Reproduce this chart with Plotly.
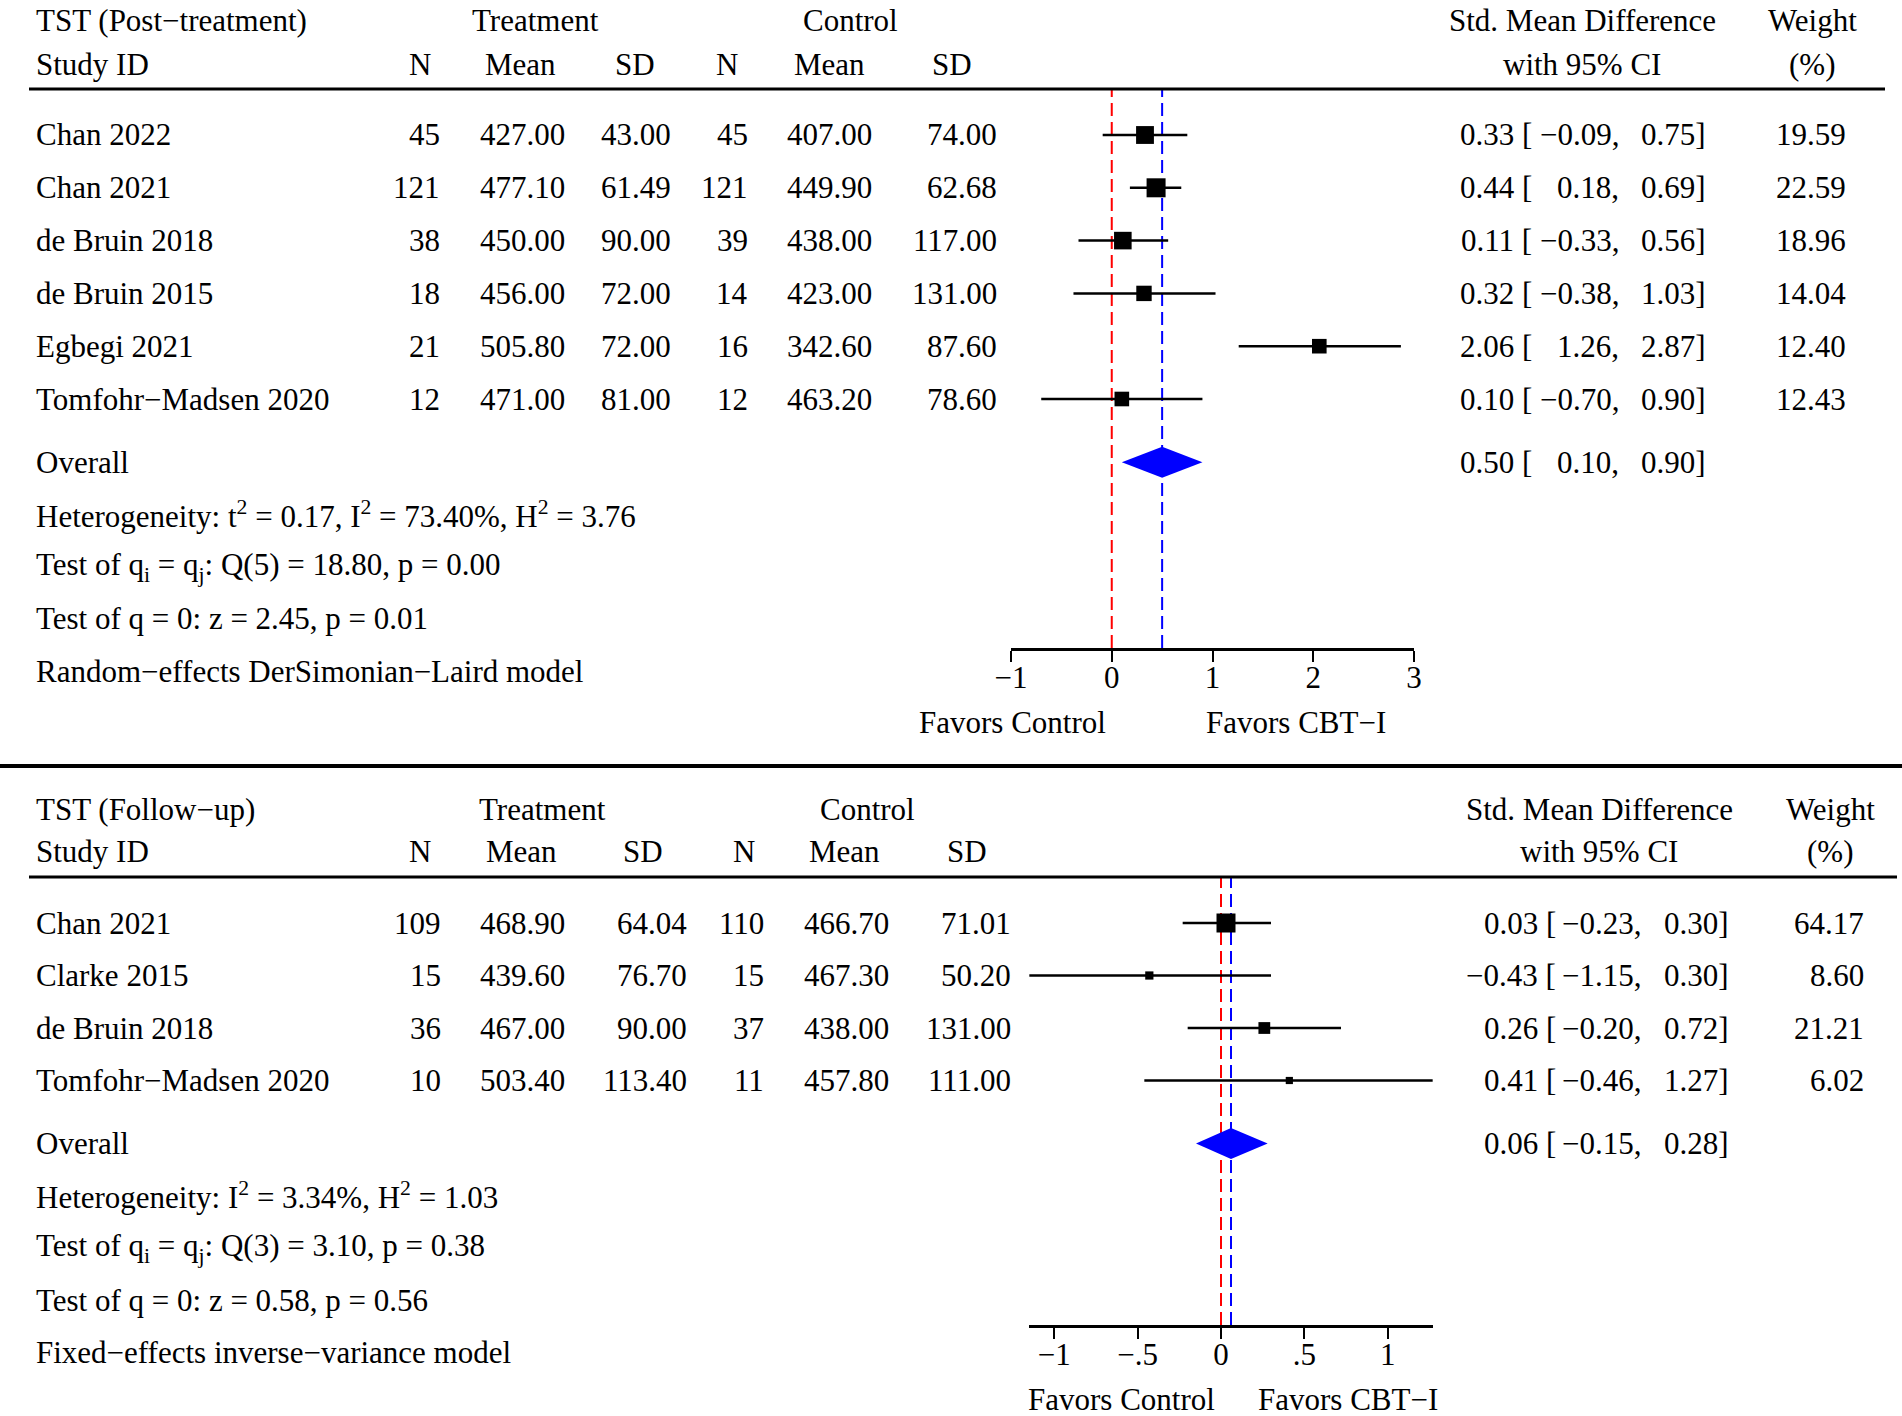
import plotly.graph_objects as go

# Datos: TST post-tratamiento
post_studies = ["Chan 2022", "Chan 2021", "de Bruin 2018", "de Bruin 2015", "Egbegi 2021", "Tomfohr−Madsen 2020"]
post_n_t = [45, 121, 38, 18, 21, 12]
post_mean_t = [427.00, 477.10, 450.00, 456.00, 505.80, 471.00]
post_sd_t = [43.00, 61.49, 90.00, 72.00, 72.00, 81.00]
post_n_c = [45, 121, 39, 14, 16, 12]
post_mean_c = [407.00, 449.90, 438.00, 423.00, 342.60, 463.20]
post_sd_c = [74.00, 62.68, 117.00, 131.00, 87.60, 78.60]
post_smd = [0.33, 0.44, 0.11, 0.32, 2.06, 0.10]
post_lo = [-0.09, 0.18, -0.33, -0.38, 1.26, -0.70]
post_hi = [0.75, 0.69, 0.56, 1.03, 2.87, 0.90]
post_weight = [19.59, 22.59, 18.96, 14.04, 12.40, 12.43]
post_overall = [0.50, 0.10, 0.90]
post_stats = [
    "Heterogeneity: t<sup>2</sup> = 0.17, I<sup>2</sup> = 73.40%, H<sup>2</sup> = 3.76",
    "Test of q<sub>i</sub> = q<sub>j</sub>: Q(5) = 18.80, p = 0.00",
    "Test of q = 0: z = 2.45, p = 0.01",
    "Random−effects DerSimonian−Laird model",
]
post_ticks = [-1, 0, 1, 2, 3]
post_ticktext = ["−1", "0", "1", "2", "3"]

# Datos: TST seguimiento
fu_studies = ["Chan 2021", "Clarke 2015", "de Bruin 2018", "Tomfohr−Madsen 2020"]
fu_n_t = [109, 15, 36, 10]
fu_mean_t = [468.90, 439.60, 467.00, 503.40]
fu_sd_t = [64.04, 76.70, 90.00, 113.40]
fu_n_c = [110, 15, 37, 11]
fu_mean_c = [466.70, 467.30, 438.00, 457.80]
fu_sd_c = [71.01, 50.20, 131.00, 111.00]
fu_smd = [0.03, -0.43, 0.26, 0.41]
fu_lo = [-0.23, -1.15, -0.20, -0.46]
fu_hi = [0.30, 0.30, 0.72, 1.27]
fu_weight = [64.17, 8.60, 21.21, 6.02]
fu_overall = [0.06, -0.15, 0.28]
fu_stats = [
    "Heterogeneity: I<sup>2</sup> = 3.34%, H<sup>2</sup> = 1.03",
    "Test of q<sub>i</sub> = q<sub>j</sub>: Q(3) = 3.10, p = 0.38",
    "Test of q = 0: z = 0.58, p = 0.56",
    "Fixed−effects inverse−variance model",
]
fu_ticks = [-1, -0.5, 0, 0.5, 1]
fu_ticktext = ["−1", "−.5", "0", ".5", "1"]

W, H = 1902, 1416
FONT = "Liberation Serif"
FS = 31


def px(x):
    return x / W


def py(y):
    return 1 - y / H


def fmt(v):
    return f"{v:.2f}".replace("-", "−")


fig = go.Figure()
anns = []
shapes = []


def txt(s, x, y, anchor="left"):
    anns.append(dict(text=s, x=px(x), y=py(y), xref="paper", yref="paper",
                     xanchor=anchor, yanchor="middle", showarrow=False,
                     borderpad=0, borderwidth=0,
                     font=dict(family=FONT, size=FS, color="black")))


def hline(y, x0, x1, width):
    shapes.append(dict(type="line", xref="paper", yref="paper",
                       x0=px(x0), x1=px(x1), y0=py(y), y1=py(y),
                       line=dict(color="black", width=width)))


def panel(ax, p, title, studies, n_t, mean_t, sd_t, n_c, mean_c, sd_c,
          smd, lo, hi, weight, overall, stats, ticks, ticktext):
    xa = "x" if ax == 1 else f"x{ax}"
    ya = "y" if ax == 1 else f"y{ax}"
    n = len(studies)
    row_over = n + 1.2

    def rpix(r):
        return p["row0"] + (r - 1) * p["dy"]

    # cabecera
    txt(title, 36, p["y1"])
    txt("Treatment", p["treat"], p["y1"], "center")
    txt("Control", p["ctrl"], p["y1"], "center")
    txt("Std. Mean Difference", p["smd"], p["y1"], "center")
    txt("Weight", p["w"], p["y1"], "center")
    txt("Study ID", 36, p["y2"])
    for lab, xc in zip(["N", "Mean", "SD", "N", "Mean", "SD"], p["hdr"]):
        txt(lab, xc, p["y2"], "center")
    txt("with 95% CI", p["smd"], p["y2"], "center")
    txt("(%)", p["w"], p["y2"], "center")
    hline(p["yline"], 29, p["xline"], 3)

    # filas
    for i in range(n):
        y = rpix(i + 1)
        txt(studies[i], 36, y)
        vals = [str(n_t[i]), f"{mean_t[i]:.2f}", f"{sd_t[i]:.2f}",
                str(n_c[i]), f"{mean_c[i]:.2f}", f"{sd_c[i]:.2f}"]
        for v, xr in zip(vals, p["cols"]):
            txt(v, xr, y, "right")
        txt(fmt(smd[i]) + " [", p["ci"][0], y, "right")
        txt(fmt(lo[i]) + ",", p["ci"][1], y, "right")
        txt(fmt(hi[i]) + "]", p["ci"][2], y, "right")
        txt(f"{weight[i]:.2f}", p["ci"][3], y, "right")

    yo = rpix(row_over)
    txt("Overall", 36, yo)
    txt(fmt(overall[0]) + " [", p["ci"][0], yo, "right")
    txt(fmt(overall[1]) + ",", p["ci"][1], yo, "right")
    txt(fmt(overall[2]) + "]", p["ci"][2], yo, "right")
    for k, s in enumerate(stats):
        txt(s, 36, yo + (k + 1) * 52.2)

    # IC y cuadrados
    wmax = max(weight)
    for i in range(n):
        fig.add_trace(go.Scatter(x=[lo[i], hi[i]], y=[i + 1, i + 1], mode="lines",
                                 line=dict(color="black", width=2.5),
                                 xaxis=xa, yaxis=ya, showlegend=False, hoverinfo="skip"))
    fig.add_trace(go.Scatter(
        x=smd, y=list(range(1, n + 1)), mode="markers",
        marker=dict(symbol="square", color="black", opacity=1,
                    size=[2 + 17 * (w / wmax) ** 0.5 for w in weight], line=dict(width=0)),
        xaxis=xa, yaxis=ya, showlegend=False))

    # diamante global
    hd = 15.5 / p["dy"]
    fig.add_trace(go.Scatter(
        x=[overall[1], overall[0], overall[2], overall[0], overall[1]],
        y=[row_over, row_over - hd, row_over, row_over + hd, row_over],
        mode="lines", fill="toself", fillcolor="#0000FF", line=dict(width=0, color="#0000FF"),
        xaxis=xa, yaxis=ya, showlegend=False, hoverinfo="skip"))

    for xv, col in [(0, "#FF0000"), (overall[0], "#0000FF")]:
        shapes.append(dict(type="line", xref=xa, yref=f"{ya} domain", x0=xv, x1=xv, y0=0, y1=1,
                           layer="below", line=dict(color=col, width=2, dash="13px,6px")))

    r_top = 1 - (p["row0"] - p["yline"]) / p["dy"]
    r_bot = 1 + (p["yaxis"] - p["row0"]) / p["dy"]
    fig.layout[f"xaxis{'' if ax == 1 else ax}"] = dict(
        domain=[px(p["xa0"]), px(p["xa1"])], range=p["xr"], anchor=ya, automargin=False,
        showline=True, linecolor="black", linewidth=2.5, showgrid=False, zeroline=False,
        ticks="outside", ticklen=11, tickwidth=2, tickcolor="black",
        tickvals=ticks, ticktext=ticktext, ticklabelstandoff=-11,
        tickfont=dict(family=FONT, size=FS, color="black"), fixedrange=True)
    fig.layout[f"yaxis{'' if ax == 1 else ax}"] = dict(
        domain=[py(p["yaxis"]), py(p["yline"])], range=[r_bot, r_top], anchor=xa,
        visible=False, automargin=False, fixedrange=True)

    txt("Favors Control", p["fav"][0], p["yfav"], "center")
    txt("Favors CBT−I", p["fav"][1], p["yfav"], "center")


top = dict(y1=21, y2=64, yline=89, xline=1885, row0=135, dy=52.8, yaxis=648,
           treat=535, ctrl=850, smd=1582, w=1812,
           hdr=[420, 520, 635, 727, 829, 952], cols=[440, 565, 671, 748, 872, 997],
           ci=[1532, 1619, 1706, 1846], xa0=1011, xa1=1414, xr=[-1, 3],
           fav=[1012, 1296], yfav=722)
bot = dict(y1=809, y2=851, yline=877, xline=1897, row0=923, dy=52.5, yaxis=1325,
           treat=542, ctrl=867, smd=1599, w=1830,
           hdr=[420, 521, 643, 744, 844, 967], cols=[441, 565, 687, 764, 889, 1011],
           ci=[1556, 1641, 1729, 1864], xa0=1029, xa1=1433, xr=[-1.152, 1.272],
           fav=[1121, 1348], yfav=1399)

panel(1, top, "TST (Post−treatment)", post_studies, post_n_t, post_mean_t, post_sd_t,
      post_n_c, post_mean_c, post_sd_c, post_smd, post_lo, post_hi, post_weight,
      post_overall, post_stats, post_ticks, post_ticktext)
panel(2, bot, "TST (Follow−up)", fu_studies, fu_n_t, fu_mean_t, fu_sd_t,
      fu_n_c, fu_mean_c, fu_sd_c, fu_smd, fu_lo, fu_hi, fu_weight,
      fu_overall, fu_stats, fu_ticks, fu_ticktext)

# separador entre paneles
hline(766, 0, 1902, 4)

fig.update_layout(width=W, height=H, margin=dict(l=0, r=0, t=0, b=0, pad=0),
                  paper_bgcolor="white", plot_bgcolor="white",
                  annotations=anns, shapes=shapes, showlegend=False,
                  font=dict(family=FONT, size=FS, color="black"))

fig.write_html("out.html", config={"displayModeBar": False},
               post_script="document.body.style.margin='0px';document.body.style.overflow='hidden';")
